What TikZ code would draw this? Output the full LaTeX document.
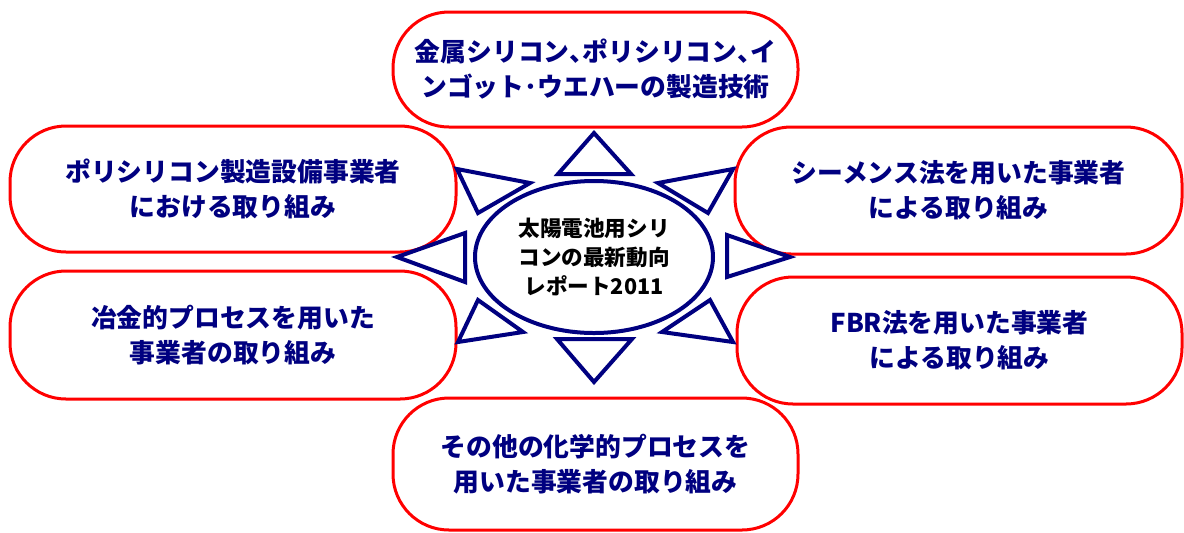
\documentclass[tikz,border=0pt]{standalone}
\usepackage{fontspec}
\setmainfont{Noto Sans CJK JP}
\usetikzlibrary{shapes.geometric}
\definecolor{snavy}{RGB}{0,0,128}
\definecolor{sred}{RGB}{255,0,0}
\newcommand{\halfcomma}{\makebox[0.5em][l]{、}}

\begin{document}
\begin{tikzpicture}[x=0.5pt,y=-0.5pt,
      topic/.style={draw=sred,line width=1.5pt,rounded corners=28pt,fill=white,align=center,
        inner sep=0pt,text=snavy,font=\bfseries\fontsize{12.9pt}{17.5pt}\selectfont},
      hub/.style={draw=snavy,ellipse,line width=2pt,inner sep=0pt,align=center,
        minimum width=119pt,minimum height=76pt,font=\bfseries\fontsize{10.8pt}{14.5pt}\selectfont},
      ray/.style={draw=snavy,line width=2pt}]
    \useasboundingbox (0,0) rectangle (1184,532);
    % six themes round the report
    \node[topic,minimum width=202.5pt,minimum height=57.5pt] (tech) at (595.5,69.5)
      {金属シリコン\halfcomma ポリシリコン\halfcomma イ\\ンゴット･ウエハーの製造技術};
    \node[topic,minimum width=223pt,minimum height=63pt] (equip) at (233,189)
      {ポリシリコン製造設備事業者\\における取り組み};
    \node[topic,minimum width=223.5pt,minimum height=63.5pt] (siemens) at (958.5,190.5)
      {シーメンス法を用いた事業者\\による取り組み};
    \node[topic,minimum width=223pt,minimum height=64pt] (metal) at (233,335)
      {冶金的プロセスを用いた\\事業者の取り組み};
    \node[topic,minimum width=222.5pt,minimum height=63.5pt] (fbr) at (959.5,340.5)
      {FBR法を用いた事業者\\による取り組み};
    \node[topic,minimum width=202.5pt,minimum height=66pt] (chem) at (595.5,464)
      {その他の化学的プロセスを\\用いた事業者の取り組み};
    % centre
    \node[hub] (report) at (594,257) {太陽電池用シリ\\コンの最新動向\\レポート2011};
    % rays
    \foreach \ax/\ay/\bx/\by/\cx/\cy in {594/133/558/174/631/174, 457/169/530/183/478/213,
        733/169/658/183/708/213, 397/257/465/233/465/282, 790/257/727/235/727/277,
        458/342/478/300/523/332, 733/342/710/300/662/332, 594/382/557/339/632/339}
      \draw[ray] (\ax,\ay) -- (\bx,\by) -- (\cx,\cy) -- cycle;
  \end{tikzpicture}
\end{document}
